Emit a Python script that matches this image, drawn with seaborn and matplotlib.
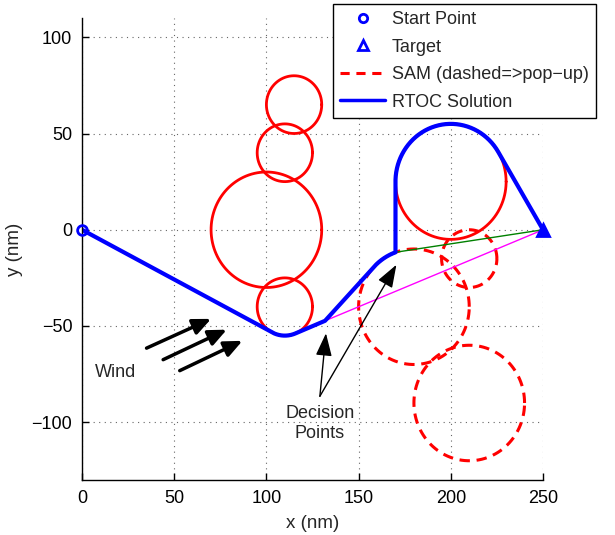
import numpy as np
import pandas as pd
import matplotlib
matplotlib.use("Agg")
import matplotlib.pyplot as plt
from matplotlib.lines import Line2D
import seaborn as sns

# ---------------- data ----------------
start_xy = [0.0, 0.0]
target_xy = [250.0, 0.0]

sam_x = [100, 110, 115, 110, 200]
sam_y = [0, 40, 65, -40, 25]
sam_r = [30, 15, 15, 15, 30]

popup_x = [180, 210, 210]
popup_y = [-40, -15, -90]
popup_r = [30, 15, 30]

decision_x = [131.8, 170.0]
decision_y = [-47.3, -11.7]

wind_x0 = [35.0, 44.0, 53.0]
wind_y0 = [-61.5, -67.5, -73.2]
wind_x1 = [70.0, 78.5, 87.0]
wind_y1 = [-46.3, -51.9, -57.7]

dp_text_xy = [129.0, -86.5]
xticks = [0, 50, 100, 150, 200, 250]
yticks = [-100, -50, 0, 50, 100]


# ---------------- geometry helpers ----------------
def circle_pts(cx, cy, r, n=240):
    t = np.linspace(0, 2 * np.pi, n)
    return cx + r * np.cos(t), cy + r * np.sin(t)


def tangent_angle(px, py, cx, cy, r, sign):
    d = np.hypot(px - cx, py - cy)
    base = np.arctan2(py - cy, px - cx)
    return (base + sign * np.arccos(r / d)) % (2 * np.pi)


def arc(cx, cy, r, a0, a1, n=80):
    t = np.linspace(a0, a1, n)
    return list(cx + r * np.cos(t)), list(cy + r * np.sin(t))


# RTOC path: start -> around circle (110,-40) -> DP1 -> along popup (180,-40) -> DP2
# -> up and around circle (200,25) -> target
cB = (sam_x[3], sam_y[3], sam_r[3])
cA = (popup_x[0], popup_y[0], popup_r[0])
cD = (sam_x[4], sam_y[4], sam_r[4])

a_in = tangent_angle(start_xy[0], start_xy[1], *cB, +1)
a_out = tangent_angle(decision_x[0], decision_y[0], *cB, -1)
ax1, ay1 = arc(*cB, a_in, a_out)

b_in = tangent_angle(decision_x[0], decision_y[0], *cA, -1)
b_out = np.arccos((decision_x[1] - cA[0]) / cA[2])
ax2, ay2 = arc(*cA, b_in, b_out)

d_out = tangent_angle(target_xy[0], target_xy[1], *cD, +1)
ax3, ay3 = arc(*cD, np.pi, d_out)

path_x = [start_xy[0]] + ax1 + [decision_x[0]] + ax2 + ax3 + [target_xy[0]]
path_y = [start_xy[1]] + ay1 + [decision_y[0]] + ay2 + ay3 + [target_xy[1]]
path_df = pd.DataFrame({"x": path_x, "y": path_y})

# ---------------- figure ----------------
sns.set_theme(style="white")
plt.rcParams["font.family"] = ["Liberation Sans", "DejaVu Sans"]
plt.rcParams["axes.unicode_minus"] = True

fig = plt.figure(figsize=(6.15, 5.35), dpi=100)
ax = fig.add_axes([82 / 615, 1 - 480 / 535, (543 - 82) / 615, (480 - 18) / 535])

# solid SAM circles
for cx, cy, r in zip(sam_x, sam_y, sam_r):
    x, y = circle_pts(cx, cy, r)
    sns.lineplot(x=x, y=y, sort=False, estimator=None, color="red", lw=2.0, ax=ax)

# pop-up SAM circles
for cx, cy, r in zip(popup_x, popup_y, popup_r):
    x, y = circle_pts(cx, cy, r)
    ax.plot(x, y, color="red", lw=2.2, linestyle=(0, (3.4, 2.2)))

# replanning lines
sns.lineplot(x=[decision_x[0], target_xy[0]], y=[decision_y[0], target_xy[1]],
             sort=False, estimator=None, color="magenta", lw=1.0, ax=ax)
sns.lineplot(x=[decision_x[1], target_xy[0]], y=[decision_y[1], target_xy[1]],
             sort=False, estimator=None, color="green", lw=1.0, ax=ax)

# RTOC solution
sns.lineplot(data=path_df, x="x", y="y", sort=False, estimator=None,
             color="blue", lw=3.0, ax=ax)

# start and target
ax.plot([start_xy[0]], [start_xy[1]], marker="o", ls="none", color="blue",
        mfc="none", mew=2, ms=7, clip_on=False, zorder=5)
ax.plot([target_xy[0]], [target_xy[1]], marker="^", ls="none", color="blue",
        mfc="blue", mew=2, ms=8, clip_on=False, zorder=5)

# wind arrows
for x0, y0, x1, y1 in zip(wind_x0, wind_y0, wind_x1, wind_y1):
    ax.annotate("", xy=(x1, y1), xytext=(x0, y0),
                arrowprops=dict(arrowstyle="-|>,head_length=0.9,head_width=0.4",
                                color="black", lw=2.5, mutation_scale=12,
                                shrinkA=0, shrinkB=0))
ax.text(7, -74, "Wind", ha="left", va="center", fontsize=13)

# decision-point arrows
for dx, dy in zip(decision_x, decision_y):
    ax.annotate("", xy=(dx + 0.5, dy - 6.5), xytext=(dp_text_xy[0], dp_text_xy[1]),
                arrowprops=dict(arrowstyle="-|>,head_length=1.4,head_width=0.5",
                                color="black", lw=1.0, mutation_scale=10,
                                shrinkA=0, shrinkB=0))
ax.text(dp_text_xy[0], -100.5, "Decision\nPoints", ha="center", va="center",
        fontsize=13, linespacing=1.2)

# axes styling
ax.set_xlim(0, 250)
ax.set_ylim(-130, 110)
ax.set_xticks(xticks)
ax.set_yticks(yticks)
ax.grid(True, color="#666666", lw=0.8, linestyle=(0, (1, 4)))
for s in ["top", "right"]:
    ax.spines[s].set_visible(False)
for s in ["left", "bottom"]:
    ax.spines[s].set_color("black")
    ax.spines[s].set_linewidth(1.0)
ax.tick_params(direction="in", length=5, width=1, colors="black",
               labelsize=13, pad=7, left=True, bottom=True)
ax.set_xlabel("x (nm)", fontsize=13.5, labelpad=6)
ax.set_ylabel("y (nm)", fontsize=13.5, labelpad=6)

# legend
handles = [
    Line2D([], [], marker="o", ls="none", color="blue", mfc="none", mew=2, ms=6),
    Line2D([], [], marker="^", ls="none", color="blue", mfc="none", mew=2, ms=7),
    Line2D([], [], color="red", lw=2.2, linestyle=(0, (3.0, 2.2))),
    Line2D([], [], color="blue", lw=2.5),
]
labels = ["Start Point", "Target", "SAM (dashed=>pop\u2212up)", "RTOC Solution"]
leg = fig.legend(handles, labels, loc="upper left",
                 bbox_to_anchor=(333 / 615, 1 - 4 / 535), frameon=True,
                 fancybox=False, edgecolor="black", fontsize=13,
                 handlelength=2.5, handletextpad=0.35, labelspacing=0.58,
                 borderpad=0.4, borderaxespad=0)
leg.get_frame().set_linewidth(1.0)
leg.get_frame().set_facecolor("white")
leg.get_frame().set_alpha(1)

fig.savefig("out.png", dpi=100)
